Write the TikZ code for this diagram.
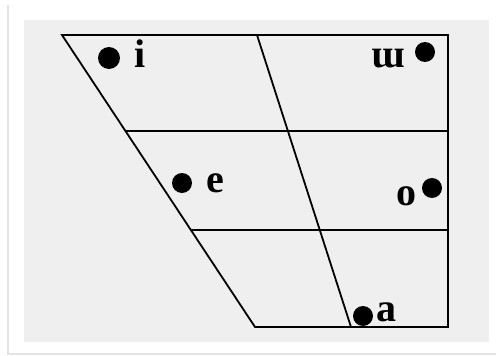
\documentclass[tikz,border=0pt]{standalone}
\usepackage{fontspec}
\setmainfont{Liberation Serif}
\definecolor{panel}{HTML}{EFEFEF}
\definecolor{frameline}{HTML}{E4E4E4}
\tikzset{
  grid/.style={line width=1.8pt, black, line cap=round, line join=miter},
  vdot/.style={circle, fill=black, inner sep=0pt, minimum size=20pt},
  vlabel/.style={anchor=base, inner sep=0pt, font=\fontsize{40}{40}\selectfont\bfseries}
}
\begin{document}
\begin{tikzpicture}[x=1pt,y=-1pt]
\useasboundingbox (0,0) rectangle (496,356);
\fill[white] (0,0) rectangle (496,356);
\draw[frameline, line width=1.2pt] (8,5) -- (8,354) -- (496,354);
\fill[panel] (24,20) rectangle (489,342);
% chart corners
\coordinate (tl) at (62,35);
\coordinate (tr) at (448,35);
\coordinate (br) at (448,327);
\coordinate (bl) at (255,327);
\coordinate (tm) at (257,35);
\coordinate (bm) at (351,327);
\coordinate (l1) at (125.5,131);
\coordinate (r1) at (448,131);
\coordinate (l2) at (191,230);
\coordinate (r2) at (448,230);
\draw[grid] (tl) -- (tr) -- (br) -- (bl) -- cycle;
\draw[grid] (tm) -- (bm);
\draw[grid] (l1) -- (r1);
\draw[grid] (l2) -- (r2);
% vowels
\node[vdot, minimum size=22pt] (di) at (109,58) {};
\node[vlabel] (ti) at (140,67) {i};
\node[vdot] (du) at (425,52) {};
\node[vlabel] (tu) at (388,67) {ɯ};
\node[vdot] (de) at (182,183) {};
\node[vlabel] (te) at (215,192) {e};
\node[vdot] (do) at (432,188) {};
\node[vlabel] (to) at (406,205) {o};
\node[vdot] (da) at (363,316) {};
\node[vlabel] (ta) at (386,321) {a};
\end{tikzpicture}
\end{document}
